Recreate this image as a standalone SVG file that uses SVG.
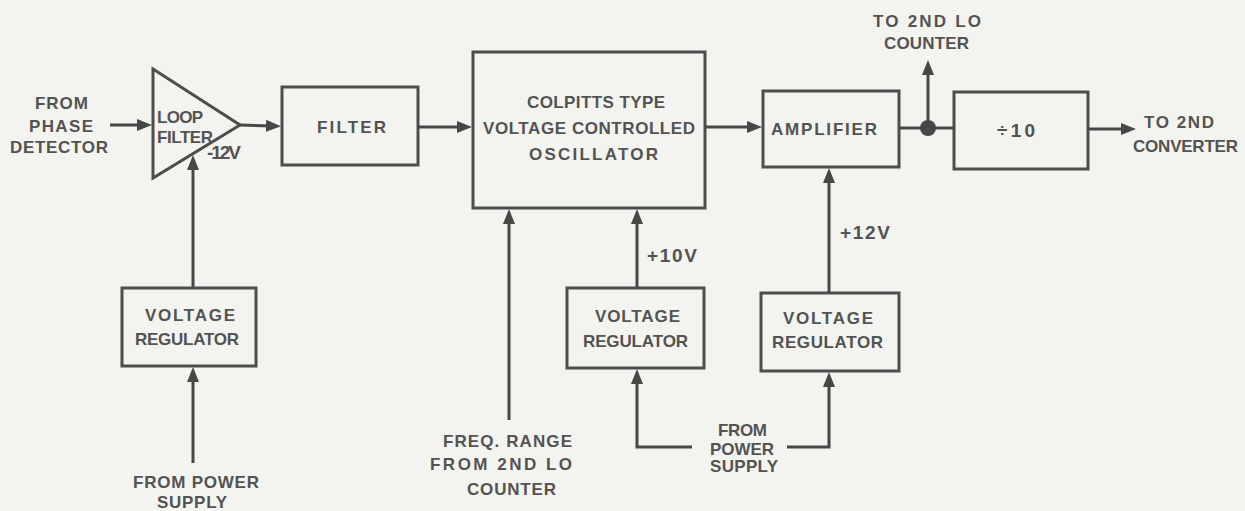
<svg xmlns="http://www.w3.org/2000/svg" width="1245" height="511" viewBox="0 0 1245 511">
<defs>
<marker id="ah" markerUnits="userSpaceOnUse" markerWidth="16" markerHeight="13" refX="6" refY="6" orient="auto">
<path d="M0,0 L15,6 L0,12 z" fill="#474747"/>
</marker>
<style>
.box{fill:none;stroke:#4d4d4d;stroke-width:3;stroke-linejoin:miter}
.ln{fill:none;stroke:#474747;stroke-width:3}
.ar{fill:none;stroke:#474747;stroke-width:3;marker-end:url(#ah)}
text{font-family:"Liberation Sans",Arial,sans-serif;font-weight:bold;font-size:17px;fill:#535353}
.big{font-size:19px}
</style>
</defs>
<rect x="0" y="0" width="1245" height="511" fill="#f3f3ef"/>

<g id="lbl-phase">
<text x="35" y="109" textLength="53">FROM</text>
<text x="29" y="132" textLength="64">PHASE</text>
<text x="10" y="153" textLength="98">DETECTOR</text>
</g>

<g id="loop-filter">
<polygon class="box" points="153,69 153,178 240,125"/>
<text x="157" y="123" textLength="46">LOOP</text>
<text x="157" y="143" textLength="56">FILTER</text>
</g>

<g id="filter">
<rect class="box" x="282" y="87" width="136" height="78"/>
<text x="317" y="133" textLength="69">FILTER</text>
</g>

<g id="vco">
<rect class="box" x="473" y="52" width="232" height="156"/>
<text x="527" y="108" textLength="138">COLPITTS TYPE</text>
<text x="483" y="134" textLength="212">VOLTAGE CONTROLLED</text>
<text x="529" y="160" textLength="129">OSCILLATOR</text>
</g>

<g id="amplifier">
<rect class="box" x="763" y="91" width="136" height="76"/>
<text x="771" y="135" textLength="106">AMPLIFIER</text>
</g>

<g id="divider">
<rect class="box" x="954" y="92" width="134" height="77"/>
<text class="big" x="997" y="137" textLength="38">÷10</text>
</g>

<g id="vr-left">
<rect class="box" x="122" y="288" width="134" height="78"/>
<text x="145" y="321" textLength="90">VOLTAGE</text>
<text x="135" y="345" textLength="104">REGULATOR</text>
</g>

<g id="vr-mid">
<rect class="box" x="567" y="288" width="137" height="80"/>
<text x="595" y="322" textLength="85">VOLTAGE</text>
<text x="583" y="347" textLength="105">REGULATOR</text>
</g>

<g id="vr-right">
<rect class="box" x="761" y="293" width="138" height="78"/>
<text x="783" y="324" textLength="90">VOLTAGE</text>
<text x="772" y="348" textLength="111">REGULATOR</text>
</g>

<g id="lbl-lo-counter">
<text x="873" y="27" textLength="108">TO 2ND LO</text>
<text x="884" y="49" textLength="85">COUNTER</text>
</g>

<g id="lbl-converter">
<text x="1144" y="128" textLength="70">TO 2ND</text>
<text x="1133" y="152" textLength="105">CONVERTER</text>
</g>

<g id="lbl-power-left">
<text x="133" y="488" textLength="126">FROM POWER</text>
<text x="157" y="508" textLength="70">SUPPLY</text>
</g>

<g id="lbl-freq">
<text x="443" y="447" textLength="129">FREQ. RANGE</text>
<text x="430" y="470" textLength="142">FROM 2ND LO</text>
<text x="467" y="495" textLength="89">COUNTER</text>
</g>

<g id="lbl-power-mid">
<text x="718" y="436" textLength="49">FROM</text>
<text x="710" y="455" textLength="64">POWER</text>
<text x="710" y="472" textLength="68">SUPPLY</text>
</g>

<g id="lbl-volts">
<text class="big" x="207" y="159" textLength="34">-12V</text>
<text class="big" x="647" y="262" textLength="50">+10V</text>
<text class="big" x="840" y="239" textLength="50">+12V</text>
</g>

<g id="connectors">
<line class="ar" x1="110" y1="125" x2="143" y2="125"/>
<line class="ar" x1="240" y1="125" x2="272" y2="126"/>
<line class="ar" x1="418" y1="127" x2="463" y2="127"/>
<line class="ar" x1="705" y1="127" x2="753" y2="127"/>
<line class="ln" x1="899" y1="128" x2="954" y2="128"/>
<circle cx="928" cy="128" r="8" fill="#474747"/>
<line class="ar" x1="928" y1="128" x2="928" y2="69"/>
<line class="ar" x1="1088" y1="129" x2="1127" y2="129"/>
<line class="ar" x1="193" y1="288" x2="193" y2="164"/>
<line class="ar" x1="193" y1="463" x2="193" y2="376"/>
<line class="ar" x1="509" y1="420" x2="509" y2="218"/>
<line class="ar" x1="637" y1="288" x2="637" y2="218"/>
<polyline class="ar" points="692,447 637,447 637,378"/>
<polyline class="ar" points="787,447 829,447 829,381"/>
<line class="ar" x1="829" y1="293" x2="829" y2="177"/>
</g>
</svg>
